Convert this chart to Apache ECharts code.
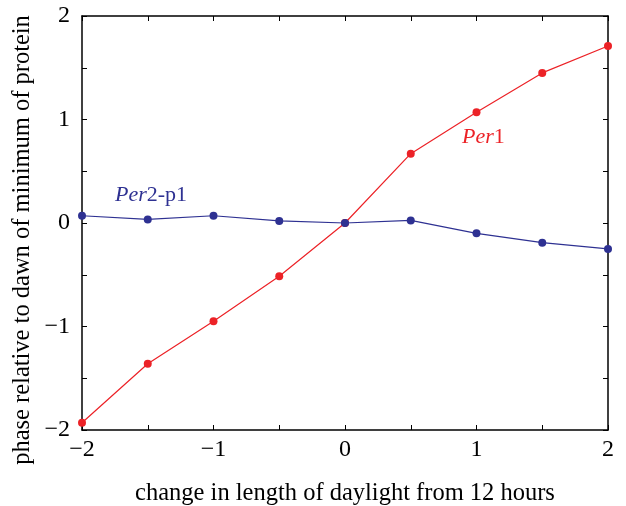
<!DOCTYPE html>
<html>
<head>
<meta charset="utf-8">
<script src="https://cdn.jsdelivr.net/npm/echarts@6/dist/echarts.min.js"></script>
<style>
  html, body { margin: 0; padding: 0; background: #fff; }
  #chart { width: 626px; height: 506px; }
</style>
</head>
<body>
<div id="chart"></div>
<script>
// change in daylight (hours)
const xValues = [-2, -1.5, -1, -0.5, 0, 0.5, 1, 1.5, 2];
const per1 = [-1.93, -1.36, -0.95, -0.515, 0, 0.67, 1.07, 1.45, 1.71];
const per2p1 = [0.07, 0.035, 0.07, 0.02, 0, 0.025, -0.10, -0.19, -0.25];

const RED = "#ec2227";
const BLUE = "#2e3192";
const FONT = "Liberation Serif";

const fmt = (v) => {
  if (Math.abs(v - Math.round(v)) > 1e-9) return "";
  return v < 0 ? "\u2212" + Math.abs(v) : String(v);
};

const chart = echarts.init(document.getElementById("chart"), null, { renderer: "canvas" });

const frameAxis = {
  type: "value",
  min: -2,
  max: 2,
  interval: 0.5,
  axisLine: { show: true, onZero: false, lineStyle: { color: "#000", width: 1.5 } },
  axisTick: { show: true, inside: true, length: 5, lineStyle: { color: "#000", width: 1 } },
  splitLine: { show: false },
};

chart.setOption({
  animation: false,
  grid: { left: 82, right: 18, top: 16, bottom: 76, outerBoundsMode: "none" },
  xAxis: [
    {
      ...frameAxis,
      position: "bottom",
      axisLabel: { formatter: fmt, color: "#000", fontFamily: FONT, fontSize: 24, margin: 8 },
    },
    { ...frameAxis, position: "top", axisLabel: { show: false } },
  ],
  yAxis: [
    {
      ...frameAxis,
      position: "left",
      axisLabel: { formatter: fmt, color: "#000", fontFamily: FONT, fontSize: 24, margin: 12 },
    },
    { ...frameAxis, position: "right", axisLabel: { show: false } },
  ],
  series: [
    {
      name: "Per1",
      type: "line",
      data: xValues.map((x, i) => [x, per1[i]]),
      symbol: "circle",
      symbolSize: 8,
      lineStyle: { color: RED, width: 1.2 },
      itemStyle: { color: RED },
      z: 2,
    },
    {
      name: "Per2-p1",
      type: "line",
      data: xValues.map((x, i) => [x, per2p1[i]]),
      symbol: "circle",
      symbolSize: 8,
      lineStyle: { color: BLUE, width: 1.2 },
      itemStyle: { color: BLUE },
      z: 3,
    },
  ],
  graphic: [
    {
      type: "text",
      x: 23,
      y: 240,
      rotation: Math.PI / 2,
      style: {
        text: "phase relative to dawn of minimum of protein",
        fontFamily: FONT,
        fontSize: 24.5,
        fill: "#000",
        align: "center",
        verticalAlign: "middle",
      },
    },
    {
      type: "text",
      x: 345,
      y: 494,
      style: {
        text: "change in length of daylight from 12 hours",
        fontFamily: FONT,
        fontSize: 24.5,
        fill: "#000",
        align: "center",
        verticalAlign: "middle",
      },
    },
    {
      type: "text",
      left: 115,
      top: 184,
      style: {
        text: "{i|Per}{r|2-p1}",
        rich: {
          i: { fontFamily: FONT, fontStyle: "italic", fontSize: 22, fill: BLUE },
          r: { fontFamily: FONT, fontSize: 22, fill: BLUE },
        },
      },
    },
    {
      type: "text",
      left: 462,
      top: 126,
      style: {
        text: "{i|Per}{r|1}",
        rich: {
          i: { fontFamily: FONT, fontStyle: "italic", fontSize: 22, fill: RED },
          r: { fontFamily: FONT, fontSize: 22, fill: RED },
        },
      },
    },
  ],
});
</script>
</body>
</html>
